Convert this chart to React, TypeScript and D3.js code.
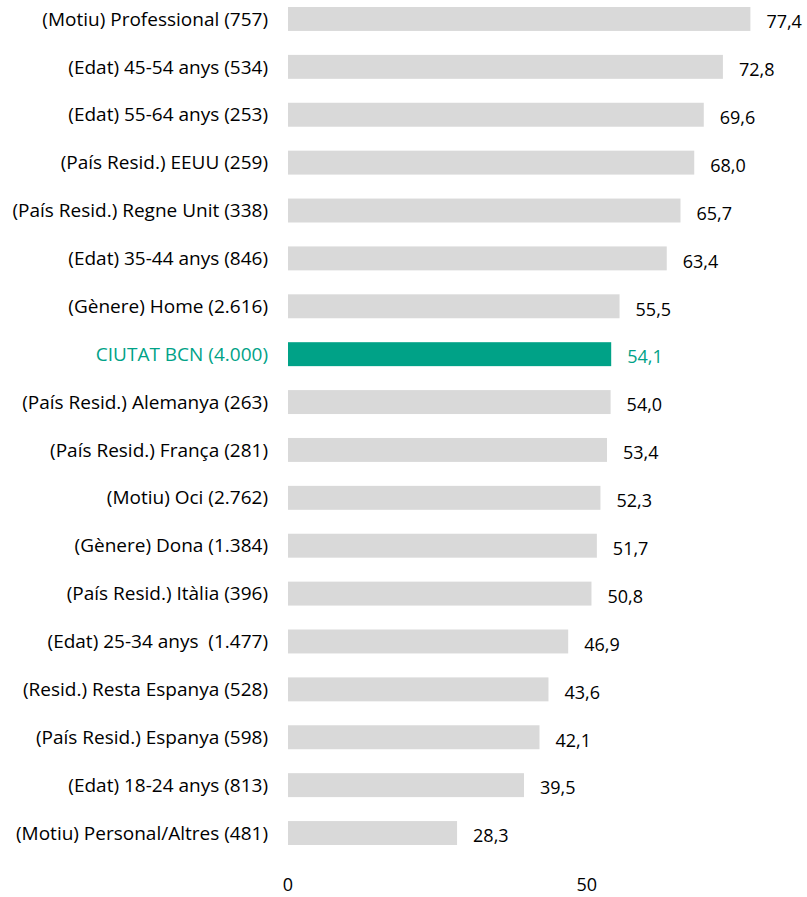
import React from "react";
import * as d3 from "d3";

const categories = [
  "(Motiu) Professional (757)",
  "(Edat) 45-54 anys (534)",
  "(Edat) 55-64 anys (253)",
  "(País Resid.) EEUU (259)",
  "(País Resid.) Regne Unit (338)",
  "(Edat) 35-44 anys (846)",
  "(Gènere) Home (2.616)",
  "CIUTAT BCN (4.000)",
  "(País Resid.) Alemanya (263)",
  "(País Resid.) França (281)",
  "(Motiu) Oci (2.762)",
  "(Gènere) Dona (1.384)",
  "(País Resid.) Itàlia (396)",
  "(Edat) 25-34 anys  (1.477)",
  "(Resid.) Resta Espanya (528)",
  "(País Resid.) Espanya (598)",
  "(Edat) 18-24 anys (813)",
  "(Motiu) Personal/Altres (481)",
];
const values = [77.4, 72.8, 69.6, 68.0, 65.7, 63.4, 55.5, 54.1, 54.0, 53.4, 52.3, 51.7, 50.8, 46.9, 43.6, 42.1, 39.5, 28.3];
const highlight = "CIUTAT BCN (4.000)";
const ticks = [0, 50];

const fmt = (v: number) => v.toFixed(1).replace(".", ",");

export default function App() {
  const W = 807, H = 897;
  const x = d3.scaleLinear().domain([0, 50]).range([288, 586.7]);
  const y = d3.scaleBand<string>().domain(categories).range([7, 845]).paddingInner(0.5).paddingOuter(0);
  const font = "'Open Sans', sans-serif";
  const green = "#00a287";
  const fsLabel = 19;
  const fs = 18;
  return (
    <svg width={W} height={H} style={{ position: "absolute", left: 0, top: 0 }} fontFamily={font}>
      {categories.map((c, i) => {
        const yy = y(c)!;
        const hl = c === highlight;
        const col = hl ? green : "#000";
        return (
          <g key={c}>
            <rect x={x(0)} y={yy} width={x(values[i]) - x(0)} height={y.bandwidth()} fill={hl ? green : "#d9d9d9"} />
            <text x={268} y={yy + y.bandwidth() / 2} dy="0.35em" textAnchor="end" fontSize={fsLabel} fill={col} style={{ whiteSpace: "pre" }}>{c}</text>
            <text x={x(values[i]) + 16} y={yy + y.bandwidth() / 2 + 3} dy="0.35em" fontSize={fs} fill={col}>{fmt(values[i])}</text>
          </g>
        );
      })}
      {ticks.map((t) => (
        <text key={t} x={x(t)} y={885} dy="0.35em" textAnchor="middle" fontSize={fs} fill="#000">{t}</text>
      ))}
    </svg>
  );
}
